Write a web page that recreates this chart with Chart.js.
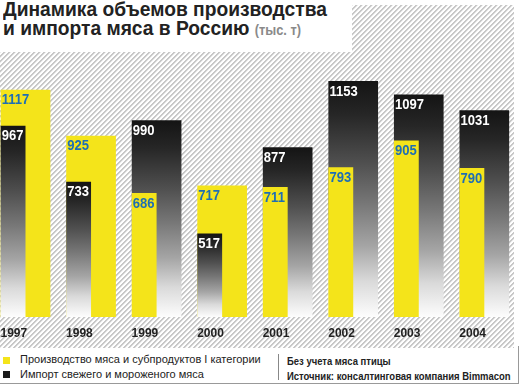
<!DOCTYPE html>
<html>
<head>
<meta charset="utf-8">
<script src="https://cdn.jsdelivr.net/npm/chart.js@4"></script>
<style>
  body { margin: 0; width: 520px; height: 385px; background: #fff; position: relative; overflow: hidden; font-family: 'Liberation Sans', Arial, sans-serif; }
  #hatch { position: absolute; left: 0; top: 5px; }
  #titlebox { position: absolute; left: 0; top: 0; width: 352px; height: 52px; background: #fff; z-index: 2; }
  #title { position: absolute; left: 3px; top: -1px; margin: 0; font: bold 21px/19px 'Liberation Sans', sans-serif; color: #222; white-space: nowrap;
    transform: scaleX(0.915); transform-origin: 0 0; }
  #title span { font-size: 14px; color: #8a8a8a; }
  #wrap { position: absolute; left: 0; top: 0; width: 520px; height: 357px; z-index: 1; }
  .leg { position: absolute; font-size: 11px; color: #222; white-space: nowrap; }
  .sq { position: absolute; left: 3px; width: 7px; height: 7px; }
  .note { position: absolute; left: 287px; font: bold 11px 'Liberation Sans', sans-serif; color: #222; white-space: nowrap;
    transform: scaleX(0.86); transform-origin: 0 0; }
  #sep { position: absolute; left: 278px; top: 354px; width: 1px; height: 26px; background: #888; }
  #rb { position: absolute; left: 518px; top: 346px; width: 1px; height: 38px; background: #999; }
  #bb { position: absolute; left: 0; top: 383px; width: 519px; height: 1px; background: #999; }
</style>
</head>
<body>
<canvas id="hatch" width="514" height="343"></canvas>
<div id="titlebox"><p id="title">Динамика объемов производства<br>и импорта мяса в Россию <span>(тыс. т)</span></p></div>

<div class="sq" style="top:357px;background:#f4e41a"></div>
<div class="leg" style="left:20px;top:353px">Производство мяса и субпродуктов I категории</div>
<div class="sq" style="top:371px;background:#1a1a1a"></div>
<div class="leg" style="left:20px;top:368px">Импорт свежего и мороженого мяса</div>
<div id="sep"></div>
<div class="note" style="top:355px">Без учета мяса птицы</div>
<div class="note" style="top:370px">Источник: консалтинговая компания Bimmacon</div>
<div id="rb"></div>
<div id="bb"></div>

<div id="wrap"><canvas id="chart"></canvas></div>

<script>
const years = ['1997', '1998', '1999', '2000', '2001', '2002', '2003', '2004'];
const production = [1117, 925, 686, 717, 711, 793, 905, 790];
const imports = [967, 733, 990, 517, 877, 1153, 1097, 1031];
const axisMin = 168;
const axisMax = 1262;

const YELLOW = '#f4e41a';
const BLUE = '#1e6eb4';

// diagonal hatching behind the chart
(function drawHatch() {
    const cv = document.getElementById('hatch');
    const hctx = cv.getContext('2d');
    const img = hctx.createImageData(cv.width, cv.height);
    for (let y = 0; y < cv.height; y++) {
        for (let x = 0; x < cv.width; x++) {
            const k = (x + y) % 5;
            const v = k < 2 ? 200 : (k === 2 ? 236 : 255);
            const p = (y * cv.width + x) * 4;
            img.data[p] = img.data[p + 1] = img.data[p + 2] = v;
            img.data[p + 3] = 255;
        }
    }
    hctx.putImageData(img, 0, 0);
})();

// shorter bar of each year sits in front, on the left half
const frontValues = years.map((y, i) => Math.min(production[i], imports[i]));
const backValues = years.map((y, i) => Math.max(production[i], imports[i]));
const frontIsProd = years.map((y, i) => production[i] <= imports[i]);

function darkGradient(c) {
    const chart = c.chart;
    if (!chart.chartArea) return '#333';
    const yScale = chart.scales.y;
    const top = yScale.getPixelForValue(c.raw);
    const bottom = yScale.getPixelForValue(axisMin);
    const g = chart.ctx.createLinearGradient(0, top, 0, bottom);
    g.addColorStop(0, '#141414');
    g.addColorStop(0.14, '#262626');
    g.addColorStop(0.35, '#505050');
    g.addColorStop(0.52, '#777');
    g.addColorStop(0.7, '#a5a5a5');
    g.addColorStop(0.85, '#dadada');
    g.addColorStop(1, '#fdfdfd');
    return g;
}

const valueLabels = {
    id: 'valueLabels',
    afterDatasetsDraw(chart) {
        const ctx = chart.ctx;
        [2, 0].forEach(di => {
            chart.getDatasetMeta(di).data.forEach((bar, i) => {
                const isProd = di === 0 ? frontIsProd[i] : !frontIsProd[i];
                const value = chart.data.datasets[di].data[i];
                ctx.save();
                ctx.translate(bar.x - bar.width / 2 + 1, bar.y + 3);
                ctx.scale(0.87, 1);
                ctx.font = "bold 15px 'Liberation Sans', Arial, sans-serif";
                ctx.textAlign = 'left';
                ctx.textBaseline = 'top';
                ctx.fillStyle = isProd ? BLUE : '#fff';
                ctx.fillText(value, 0, 0);
                ctx.restore();
            });
        });
    }
};

new Chart(document.getElementById('chart'), {
    type: 'bar',
    data: {
        labels: years,
        datasets: [
            {
                label: 'front',
                data: frontValues,
                base: axisMin,
                clip: false,
                backgroundColor: c => frontIsProd[c.dataIndex] ? YELLOW : darkGradient(c)
            },
            {
                label: 'spacer',
                data: years.map(() => null)
            },
            {
                label: 'back',
                data: backValues,
                base: axisMin,
                grouped: false,
                clip: false,
                backgroundColor: c => frontIsProd[c.dataIndex] ? darkGradient(c) : YELLOW
            }
        ]
    },
    options: {
        responsive: true,
        maintainAspectRatio: false,
        animation: false,
        categoryPercentage: 0.758,
        barPercentage: 1,
        layout: { padding: { left: 25.5, right: 28, top: 55, bottom: 7.6 } },
        plugins: { legend: { display: false }, tooltip: { enabled: false } },
        scales: {
            x: {
                offset: false,
                grid: { display: false, drawTicks: false },
                border: { display: false },
                ticks: {
                    align: 'start',
                    labelOffset: -25,
                    padding: 9,
                    color: '#222',
                    font: { family: "'Liberation Sans', Arial, sans-serif", size: 12, weight: 'bold' }
                }
            },
            y: {
                display: false,
                beginAtZero: false,
                min: axisMin,
                max: axisMax
            }
        }
    },
    plugins: [valueLabels]
});
</script>
</body>
</html>
